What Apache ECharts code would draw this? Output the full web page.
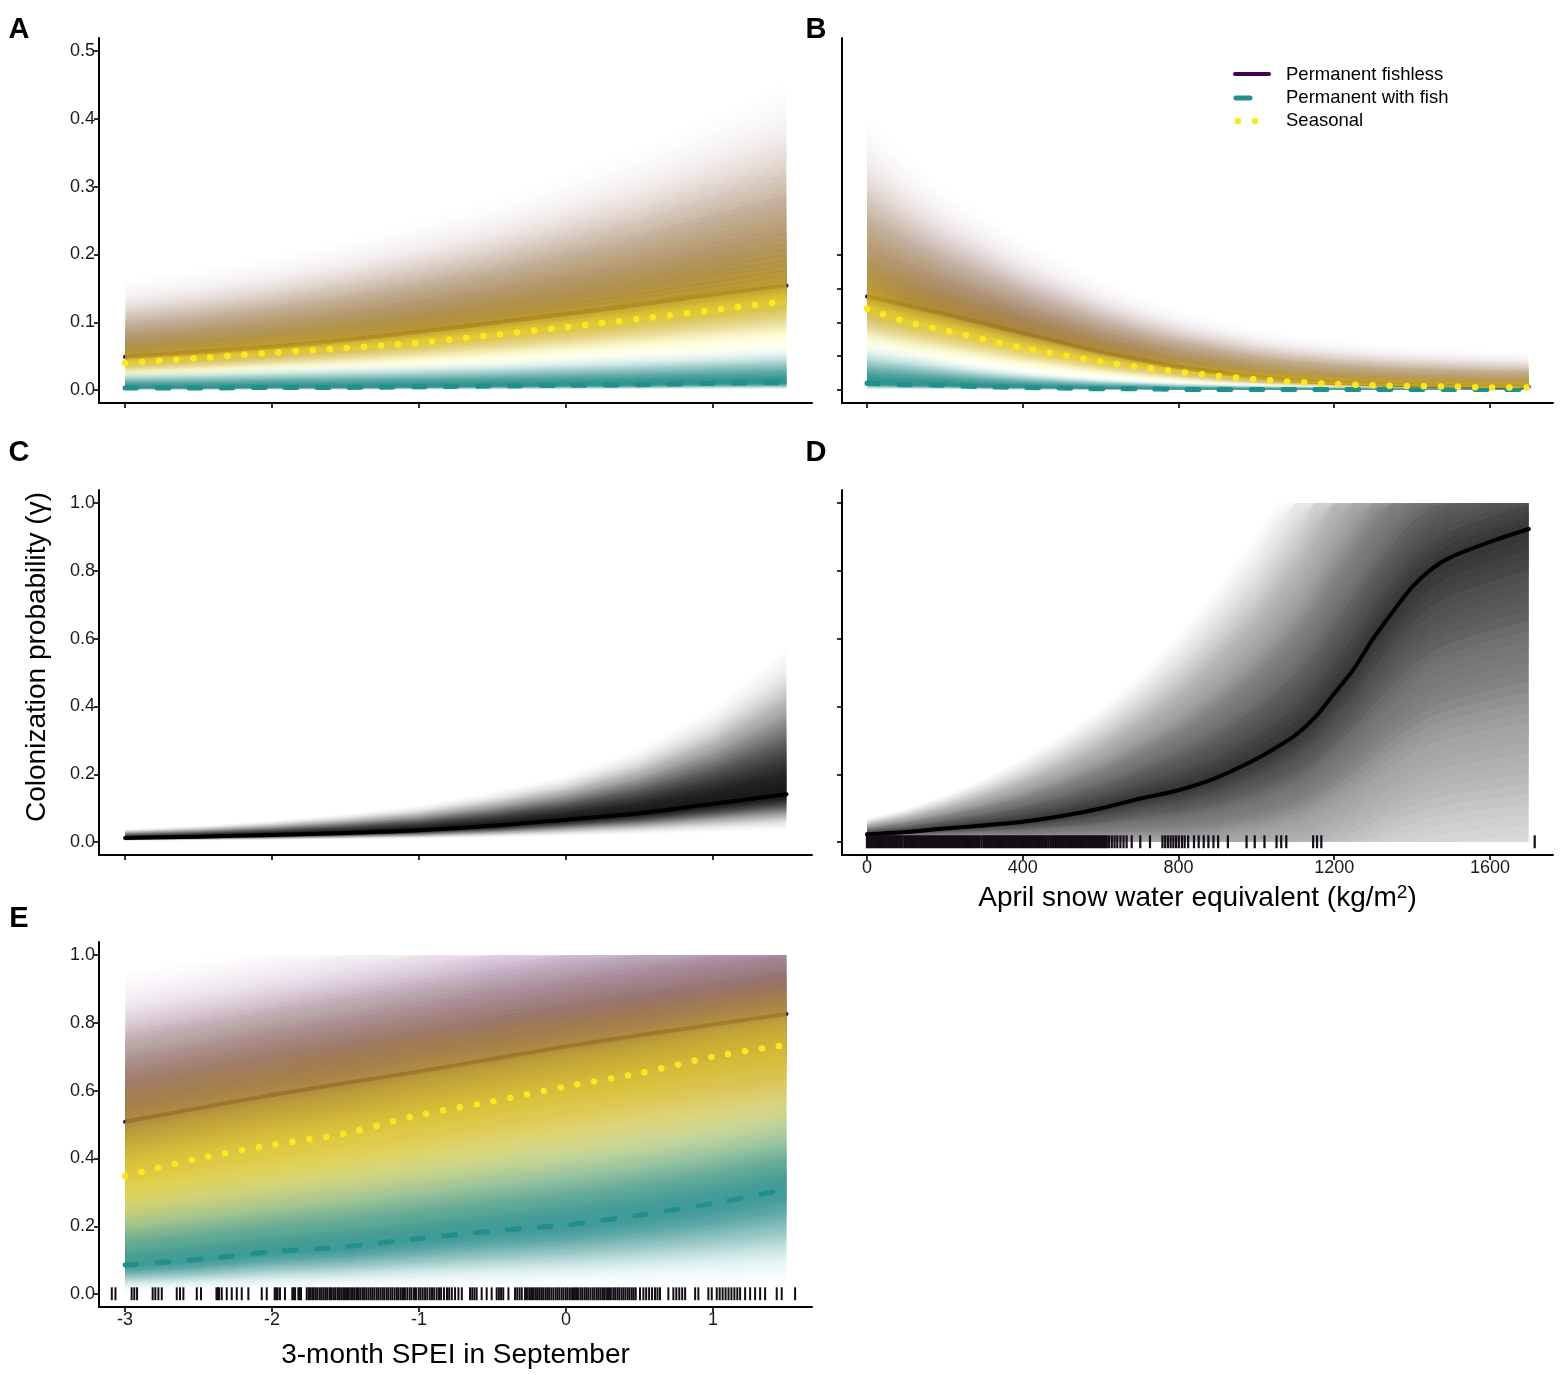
<!DOCTYPE html>
<html>
<head>
<meta charset="utf-8">
<title>Colonization probability</title>
<script src="https://cdn.jsdelivr.net/npm/echarts@6/dist/echarts.min.js"></script>
<style>
html, body { margin: 0; padding: 0; background: #fff; }
#chart { width: 1562px; height: 1375px; }
</style>
</head>
<body>
<div id="chart"></div>
<script>
// x values
var spei = [-3, -2.5, -2, -1.5, -1, -0.5, 0, 0.5, 1, 1.5];
var sweB = [0, 100, 200, 300, 400, 500, 600, 700, 800, 900, 1000, 1100, 1200, 1300, 1400, 1500, 1600, 1700];
var sweD = [0, 100, 200, 300, 400, 500, 600, 700, 800, 900, 1000, 1050, 1100, 1150, 1200, 1250, 1300, 1350, 1400, 1450, 1500, 1600, 1700];

// tick labels
var speiTicks = [-3, -2, -1, 0, 1];
var sweTicks = [0, 400, 800, 1200, 1600];
var probTicksA = [0, 0.1, 0.2, 0.3, 0.4, 0.5];
var probTicksB = [0, 0.05, 0.1, 0.15, 0.2];
var probTicks = [0, 0.2, 0.4, 0.6, 0.8, 1.0];

// panel A : SPEI, by wetland type (median, fan top, fan bottom)
var aFishlessMed = [0.049, 0.056, 0.064, 0.074, 0.086, 0.099, 0.112, 0.126, 0.141, 0.154];
var aFishlessHi = [0.17, 0.185, 0.205, 0.23, 0.26, 0.29, 0.33, 0.37, 0.42, 0.47];
var aFishlessLo = [0.02, 0.023, 0.027, 0.031, 0.036, 0.042, 0.048, 0.055, 0.062, 0.07];
var aFishMed = [0.003, 0.003, 0.004, 0.004, 0.005, 0.006, 0.007, 0.008, 0.010, 0.011];
var aFishHi = [0.03, 0.032, 0.035, 0.038, 0.041, 0.045, 0.05, 0.055, 0.06, 0.066];
var aFishLo = [0, 0, 0, 0, 0, 0, 0, 0, 0, 0];
var aSeasonalMed = [0.040, 0.047, 0.055, 0.062, 0.070, 0.081, 0.093, 0.105, 0.118, 0.131];
var aSeasonalHi = [0.15, 0.165, 0.185, 0.21, 0.235, 0.265, 0.3, 0.34, 0.38, 0.43];
var aSeasonalLo = [0.012, 0.014, 0.017, 0.02, 0.023, 0.026, 0.03, 0.034, 0.038, 0.043];

// panel B : snow water equivalent, by wetland type
var bFishlessMed = [0.138, 0.125, 0.112, 0.098, 0.084, 0.070, 0.056, 0.045, 0.034, 0.026, 0.019, 0.014, 0.011, 0.009, 0.007, 0.006, 0.005, 0.005];
var bFishlessHi = [0.42, 0.36, 0.31, 0.27, 0.23, 0.2, 0.17, 0.145, 0.125, 0.11, 0.095, 0.085, 0.078, 0.072, 0.068, 0.065, 0.062, 0.06];
var bFishlessLo = [0.06, 0.052, 0.045, 0.038, 0.031, 0.025, 0.019, 0.014, 0.01, 0.007, 0.005, 0.004, 0.003, 0.002, 0.002, 0.002, 0.001, 0.001];
var bFishMed = [0.010, 0.008, 0.007, 0.005, 0.004, 0.003, 0.002, 0.002, 0.001, 0.001, 0.001, 0.001, 0.001, 0.001, 0.001, 0.001, 0.001, 0.001];
var bFishHi = [0.07, 0.06, 0.048, 0.038, 0.03, 0.024, 0.019, 0.015, 0.012, 0.01, 0.008, 0.007, 0.006, 0.006, 0.005, 0.005, 0.005, 0.005];
var bFishLo = [0, 0, 0, 0, 0, 0, 0, 0, 0, 0, 0, 0, 0, 0, 0, 0, 0, 0];
var bSeasonalMed = [0.120, 0.101, 0.088, 0.075, 0.062, 0.052, 0.042, 0.034, 0.027, 0.021, 0.016, 0.012, 0.009, 0.007, 0.006, 0.005, 0.004, 0.004];
var bSeasonalHi = [0.38, 0.32, 0.27, 0.235, 0.2, 0.175, 0.15, 0.128, 0.11, 0.095, 0.083, 0.074, 0.067, 0.062, 0.058, 0.055, 0.053, 0.052];
var bSeasonalLo = [0.045, 0.037, 0.031, 0.026, 0.021, 0.016, 0.012, 0.009, 0.007, 0.005, 0.004, 0.003, 0.002, 0.002, 0.001, 0.001, 0.001, 0.001];

// panel C : SPEI, all wetlands
var cMed = [0.012, 0.016, 0.021, 0.027, 0.035, 0.048, 0.066, 0.085, 0.113, 0.141];
var cHi = [0.04, 0.05, 0.065, 0.085, 0.11, 0.15, 0.2, 0.28, 0.4, 0.58];
var cLo = [0.003, 0.004, 0.005, 0.007, 0.009, 0.012, 0.016, 0.021, 0.027, 0.034];

// panel D : snow water equivalent, all wetlands (fan runs past 0 and 1, cut at the limits)
var dMed = [0.023, 0.030, 0.040, 0.049, 0.060, 0.077, 0.099, 0.128, 0.153, 0.191, 0.245, 0.278, 0.315, 0.367, 0.438, 0.51, 0.60, 0.678, 0.752, 0.805, 0.84, 0.885, 0.923];
var dHi = [0.07, 0.10, 0.14, 0.19, 0.25, 0.32, 0.4, 0.5, 0.62, 0.76, 0.92, 1.02, 1.12, 1.24, 1.36, 1.46, 1.53, 1.58, 1.61, 1.62, 1.62, 1.62, 1.62];
var dLo = [0.0, 0.0, -0.01, -0.02, -0.04, -0.06, -0.09, -0.12, -0.15, -0.18, -0.21, -0.22, -0.23, -0.24, -0.25, -0.26, -0.27, -0.27, -0.28, -0.28, -0.28, -0.28, -0.28];

// panel E : SPEI, by wetland type
var eFishlessMed = [0.508, 0.548, 0.587, 0.622, 0.656, 0.693, 0.730, 0.763, 0.794, 0.826];
var eFishlessHi = [0.95, 0.99, 1.03, 1.07, 1.11, 1.15, 1.18, 1.21, 1.24, 1.27];
var eFishlessLo = [0.20, 0.23, 0.26, 0.29, 0.32, 0.35, 0.38, 0.41, 0.44, 0.47];
var eFishMed = [0.086, 0.102, 0.125, 0.14, 0.164, 0.186, 0.204, 0.233, 0.267, 0.309];
var eFishHi = [0.38, 0.41, 0.44, 0.47, 0.50, 0.53, 0.56, 0.59, 0.62, 0.66];
var eFishLo = [0.005, 0.008, 0.01, 0.012, 0.015, 0.018, 0.02, 0.023, 0.026, 0.03];
var eSeasonalMed = [0.348, 0.40, 0.44, 0.474, 0.528, 0.568, 0.612, 0.651, 0.70, 0.735];
var eSeasonalHi = [0.85, 0.88, 0.91, 0.94, 0.96, 0.98, 1.0, 1.02, 1.04, 1.06];
var eSeasonalLo = [0.08, 0.10, 0.12, 0.14, 0.16, 0.19, 0.22, 0.25, 0.28, 0.31];

// rug of observed covariate values
var dRug = [0, 3, 7, 11, 15, 19, 23, 27, 31, 35, 39, 43, 47, 51, 55, 59, 63, 67, 71, 75, 79, 83, 87, 91, 96, 100,
  105, 109, 113, 117, 121, 125, 129, 133, 137, 141, 145, 149, 153, 157, 161, 165, 169, 173, 177, 181, 185, 189, 193, 197,
  201, 205, 209, 213, 217, 221, 225, 229, 233, 237, 241, 245, 249, 253, 257, 261, 265, 269, 273, 277, 281, 285, 289,
  294, 299, 303, 307, 311, 315, 319, 323, 327, 331, 335, 339, 343, 347, 351, 355, 359, 363, 367, 371, 375, 379,
  382, 386, 390, 394, 398, 402, 406, 410, 414, 418, 422, 426, 430, 434, 438, 442, 446, 450, 454, 458,
  462, 467, 472, 476, 480, 484, 488, 492, 496, 500, 504, 508, 512, 516, 519, 523, 527, 531, 535, 539, 543, 547, 551,
  555, 558, 562, 566, 570, 574, 578, 582, 586, 590, 593, 597, 601, 605, 609, 612, 616, 622, 629, 636, 643, 651, 659, 667, 680,
  702, 727, 759, 766, 773, 780, 787, 794, 801, 809, 816, 825, 840, 852, 865, 877, 890, 902, 927,
  975, 996, 1021, 1052, 1064, 1077, 1146, 1156, 1167, 1715];
var eRug = [-3.09, -3.065, -2.955, -2.937, -2.918, -2.812, -2.794, -2.773, -2.75, -2.648, -2.626, -2.603, -2.512, -2.483,
  -2.378, -2.368, -2.36, -2.342, -2.308, -2.274, -2.24, -2.206, -2.161, -2.07, -2.036, -1.982, -1.972, -1.962, -1.946,
  -1.912, -1.862, -1.852, -1.843, -1.821, -1.812, -1.803,
  -1.764, -1.751, -1.741, -1.727, -1.716, -1.702, -1.69, -1.675, -1.663, -1.65, -1.637, -1.625, -1.61, -1.599, -1.584,
  -1.571, -1.556, -1.544, -1.53, -1.516, -1.504, -1.49, -1.477, -1.462, -1.45, -1.437, -1.422, -1.41, -1.397, -1.382,
  -1.37, -1.357, -1.343, -1.329, -1.316, -1.303, -1.288, -1.276, -1.262, -1.248, -1.236, -1.221, -1.209, -1.194,
  -1.181, -1.166, -1.151, -1.139, -1.124, -1.109, -1.096, -1.08, -1.064, -1.051, -1.034, -1.021, -1.003, -0.99,
  -0.975, -0.959, -0.944, -0.927, -0.912, -0.897, -0.88, -0.864, -0.85, -0.83, -0.81, -0.795, -0.777, -0.755,
  -0.732, -0.709, -0.653, -0.638, -0.623, -0.608, -0.574, -0.54, -0.506, -0.472, -0.457, -0.442, -0.427, -0.392,
  -0.347, -0.332, -0.316, -0.301,
  -0.279, -0.266, -0.251, -0.238, -0.225, -0.21, -0.197, -0.183, -0.169, -0.156, -0.141, -0.128, -0.115, -0.1,
  -0.086, -0.071, -0.058, -0.045, -0.03, -0.017, -0.002, 0.011, 0.026, 0.041, 0.054, 0.068, 0.081, 0.097, 0.11,
  0.125, 0.138, 0.151, 0.166, 0.181, 0.194, 0.209, 0.222, 0.236, 0.251, 0.264, 0.279, 0.292, 0.305, 0.321, 0.334,
  0.349, 0.362, 0.377, 0.39, 0.404, 0.419, 0.432, 0.447, 0.46, 0.474,
  0.503, 0.526, 0.545, 0.565, 0.585, 0.605, 0.622, 0.639, 0.696, 0.73, 0.75, 0.77, 0.79, 0.81, 0.878, 0.9,
  0.968, 0.991, 1.025, 1.045, 1.065, 1.085, 1.105, 1.125, 1.145, 1.165, 1.184, 1.218, 1.252, 1.286, 1.32, 1.354,
  1.433, 1.467, 1.558];

var colFishless = '#440154';
var colFish = '#21908C';
var colSeasonal = '#FDE725';
var font = "'Liberation Sans', Arial, sans-serif";

// shading of the fan: 40 nested ribbons; relative opacity from the median (first) to the edge (last)
var fanSlices = 40;
function bellProfile() {
  var p = [];
  for (var k = 0; k < fanSlices; k++) {
    var t = (k + 0.5) / fanSlices;
    p.push((Math.exp(-2.88 * t * t) - Math.exp(-2.88)) / (1 - Math.exp(-2.88)));
  }
  return p;
}
function powerProfile(power) {
  var p = [];
  for (var k = 0; k < fanSlices; k++) {
    var t = (k + 0.5) / fanSlices;
    p.push(Math.pow(1 - t, power));
  }
  return p;
}
var bell = bellProfile();
var peaked = powerProfile(2);
var broad = powerProfile(1.2);

function fanSeries(g, xs, med, lo, hi, color, maxAlpha, profile) {
  var n = profile.length;
  return {
    type: 'custom', xAxisIndex: g, yAxisIndex: g, silent: true,
    data: profile.map(function (p, k) { return [xs[0], med[0], k]; }),
    renderItem: function (params, api) {
      var k = api.value(2);
      var l = (k + 1) / n;
      // alpha of this ribbon so that the stacked ribbons follow the profile
      var inner = 1 - maxAlpha * profile[k];
      var outer = k + 1 < n ? 1 - maxAlpha * profile[k + 1] : 1;
      var a = 1 - inner / outer;
      var up = [], dn = [];
      for (var i = 0; i < xs.length; i++) {
        var u = Math.min(1, med[i] + (hi[i] - med[i]) * l);
        var d = Math.max(0, med[i] - (med[i] - lo[i]) * l);
        up.push(api.coord([xs[i], u]));
        dn.unshift(api.coord([xs[i], d]));
      }
      return {
        type: 'polygon',
        shape: { points: up.concat(dn) },
        style: { fill: color, opacity: a }
      };
    }
  };
}

function lineSeries(g, xs, ys, color, width, dash) {
  return {
    type: 'line', xAxisIndex: g, yAxisIndex: g, silent: true,
    symbol: 'none', smooth: 0.3,
    data: xs.map(function (x, i) { return [x, ys[i]]; }),
    lineStyle: { color: color, width: width, type: dash || 'solid', cap: 'round', join: 'round' }
  };
}

function rugSeries(g, vals, w) {
  return {
    type: 'custom', xAxisIndex: g, yAxisIndex: g, silent: true,
    data: vals.map(function (v) { return [v, 0]; }),
    renderItem: function (params, api) {
      var p0 = api.coord([api.value(0), -0.018]);
      var p1 = api.coord([api.value(0), 0.02]);
      return {
        type: 'line',
        shape: { x1: p0[0], y1: p0[1], x2: p1[0], y2: p1[1] },
        style: { stroke: '#140c16', lineWidth: w }
      };
    }
  };
}

var dashed = [12, 20];
var dotted = [0.1, 17];

function groupSeries(g, xs, fl, fm, fh, wl, wm, wh, sl, sm, sh, look) {
  return [
    fanSeries(g, xs, fm, fl, fh, colFishless, look.purple, look.profile),
    lineSeries(g, xs, fm, colFishless, 4),
    fanSeries(g, xs, wm, wl, wh, colFish, look.teal, bell),
    lineSeries(g, xs, wm, colFish, 5, dashed),
    fanSeries(g, xs, sm, sl, sh, colSeasonal, look.yellow, look.profile),
    lineSeries(g, xs, sm, colSeasonal, 6.5, dotted)
  ];
}

var lookTop = { purple: 0.8, teal: 0.88, yellow: 0.8, profile: peaked };
var lookE = { purple: 0.72, teal: 0.8, yellow: 0.72, profile: bell };

var series = [].concat(
  groupSeries(0, spei, aFishlessLo, aFishlessMed, aFishlessHi, aFishLo, aFishMed, aFishHi, aSeasonalLo, aSeasonalMed, aSeasonalHi, lookTop),
  groupSeries(1, sweB, bFishlessLo, bFishlessMed, bFishlessHi, bFishLo, bFishMed, bFishHi, bSeasonalLo, bSeasonalMed, bSeasonalHi, lookTop),
  [fanSeries(2, spei, cMed, cLo, cHi, '#000', 0.85, bell), lineSeries(2, spei, cMed, '#000', 4)],
  [fanSeries(3, sweD, dMed, dLo, dHi, '#000', 0.75, broad), lineSeries(3, sweD, dMed, '#000', 4), rugSeries(3, dRug, 2.2)],
  groupSeries(4, spei, eFishlessLo, eFishlessMed, eFishlessHi, eFishLo, eFishMed, eFishHi, eSeasonalLo, eSeasonalMed, eSeasonalHi, lookE),
  [rugSeries(4, eRug, 2)]
);
// draw strictly in list order: each ribbon covers the lines listed before it
series.forEach(function (s, i) { s.z = 2 + i; });

var grids = [
  { left: 99, top: 38, width: 713, height: 365 },
  { left: 842, top: 38, width: 711, height: 365 },
  { left: 99, top: 490, width: 713, height: 365 },
  { left: 842, top: 490, width: 711, height: 365 },
  { left: 99, top: 942, width: 713, height: 365 }
];
grids.forEach(function (g) { g.outerBoundsMode = 'none'; });

function axisBase(ticks, showLabel, fmt) {
  return {
    type: 'value',
    axisLine: { show: true, onZero: false, lineStyle: { color: '#000', width: 2 } },
    axisTick: { show: true, length: 5, lineStyle: { color: '#000', width: 1.6 }, customValues: ticks },
    axisLabel: { show: showLabel, customValues: ticks, fontSize: 18, color: '#1a1a1a', fontFamily: font, margin: 4, formatter: fmt },
    splitLine: { show: false }
  };
}

function xAx(g, min, max, ticks, showLabel, name, gap) {
  var a = axisBase(ticks, showLabel, function (v) { return String(v); });
  a.gridIndex = g; a.min = min; a.max = max;
  if (name) {
    a.name = name; a.nameLocation = 'middle'; a.nameGap = gap;
    a.nameTextStyle = {
      fontSize: 28, color: '#000', fontFamily: font,
      rich: { sup: { fontSize: 19, fontFamily: font, color: '#000', verticalAlign: 'top', lineHeight: 30 } }
    };
  }
  return a;
}

function yAx(g, min, max, ticks, showLabel) {
  var a = axisBase(ticks, showLabel, function (v) { return v.toFixed(1); });
  a.gridIndex = g; a.min = min; a.max = max;
  return a;
}

var xAxes = [
  xAx(0, -3.177, 1.673, speiTicks, false),
  xAx(1, -64, 1762, sweTicks, false),
  xAx(2, -3.177, 1.673, speiTicks, false),
  xAx(3, -64, 1762, sweTicks, true, 'April snow water equivalent (kg/m{sup|2})', 28),
  xAx(4, -3.177, 1.673, speiTicks, true, '3-month SPEI in September', 34)
];
var yAxes = [
  yAx(0, -0.019, 0.519, probTicksA, true),
  yAx(1, -0.019, 0.519, probTicksB, false),
  yAx(2, -0.038, 1.038, probTicks, true),
  yAx(3, -0.038, 1.038, probTicks, false),
  yAx(4, -0.038, 1.038, probTicks, true)
];

function panelLetter(t, x, y) {
  return { type: 'text', x: x, y: y, style: { text: t, font: 'bold 29px ' + font, fill: '#000', align: 'center', verticalAlign: 'middle' } };
}
function legendText(t, y) {
  return { type: 'text', x: 1286, y: y, style: { text: t, font: '18.5px ' + font, fill: '#000', align: 'left', verticalAlign: 'middle' } };
}

var graphics = [
  panelLetter('A', 19, 30), panelLetter('B', 816, 30), panelLetter('C', 19, 453),
  panelLetter('D', 816, 453), panelLetter('E', 19, 919),
  {
    type: 'text', x: 37, y: 657, rotation: Math.PI / 2,
    style: { text: 'Colonization probability (\u03B3)', font: '28px ' + font, fill: '#000', align: 'center', verticalAlign: 'middle' }
  },
  // legend keys
  { type: 'line', shape: { x1: 1235, y1: 74, x2: 1269, y2: 74 }, style: { stroke: colFishless, lineWidth: 4, lineCap: 'round' } },
  { type: 'line', shape: { x1: 1236, y1: 98, x2: 1250, y2: 98 }, style: { stroke: colFish, lineWidth: 5, lineCap: 'round' } },
  { type: 'circle', shape: { cx: 1238, cy: 121, r: 3.3 }, style: { fill: colSeasonal } },
  { type: 'circle', shape: { cx: 1255, cy: 121, r: 3.3 }, style: { fill: colSeasonal } },
  legendText('Permanent fishless', 75),
  legendText('Permanent with fish', 98),
  legendText('Seasonal', 121)
];

var chart = echarts.init(document.getElementById('chart'), null, { renderer: 'canvas' });
chart.setOption({
  animation: false,
  backgroundColor: '#fff',
  grid: grids,
  xAxis: xAxes,
  yAxis: yAxes,
  series: series,
  graphic: graphics
});
</script>
</body>
</html>
